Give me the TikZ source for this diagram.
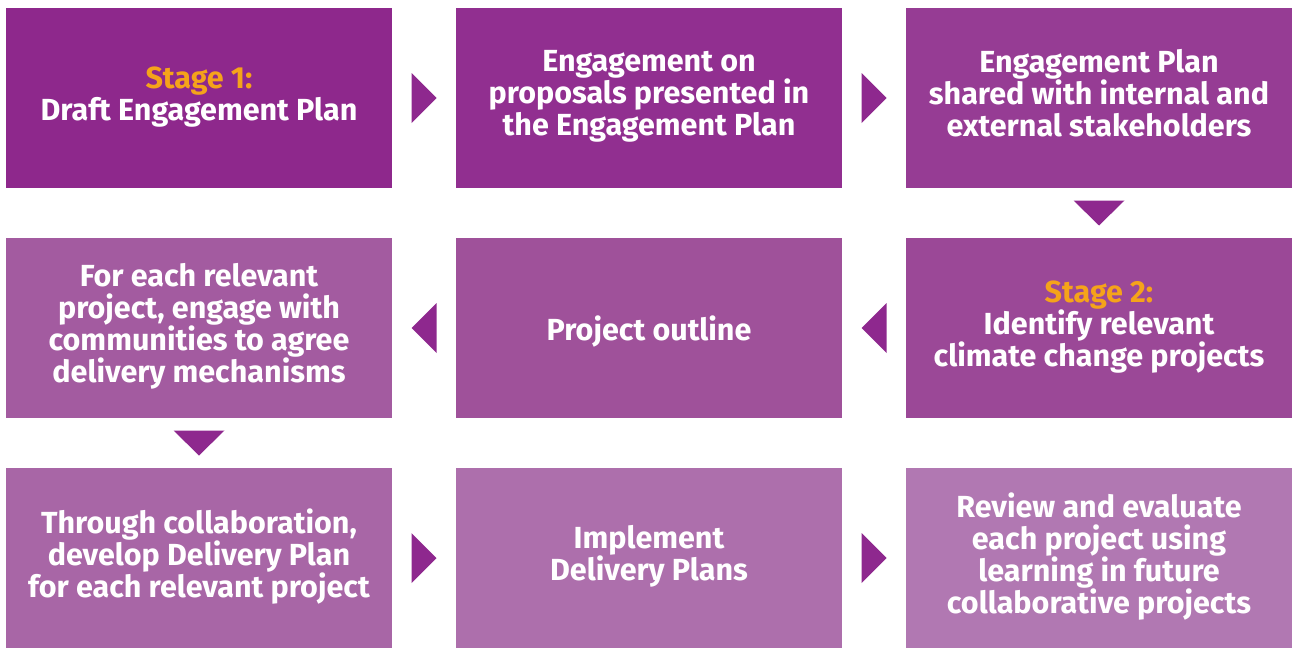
\documentclass[tikz,border=0pt]{standalone}
\usepackage{fontspec}
\setmainfont{Fira Sans}
\usepackage{tikz}
\usetikzlibrary{positioning}
\usetikzlibrary{calc}

\definecolor{stageorange}{HTML}{F5A31A}
\definecolor{tricol}{HTML}{8E288E}
\definecolor{c1}{HTML}{8E288C}
\definecolor{c2}{HTML}{912F90}
\definecolor{c3}{HTML}{963C94}
\definecolor{c4}{HTML}{A35BA0}
\definecolor{c5}{HTML}{9F519A}
\definecolor{c6}{HTML}{9B4897}
\definecolor{c7}{HTML}{A866A6}
\definecolor{c8}{HTML}{AD6FAC}
\definecolor{c9}{HTML}{B178B2}

\tikzset{
	stepbox/.style={minimum width=386pt,minimum height=180pt,inner sep=0pt,outer sep=0pt,
		align=center,text=white,font=\fontsize{30.5}{32}\selectfont\bfseries,
		execute at begin node=\rule{0pt}{34pt},execute at end node=\rule[-9.6pt]{0pt}{1pt}},
	tri/.style={fill=tricol,draw=none},
}

\begin{document}
\begin{tikzpicture}[x=1pt,y=-1pt]
	\useasboundingbox (0,0) rectangle (1292,661);
	%% row 1
	\node[stepbox,fill=c1,anchor=north west] (b1) at (6,8) {{\color{stageorange}Stage 1:}\\Draft Engagement Plan};
	\node[stepbox,fill=c2,right=64pt of b1] (b2) {Engagement on\\proposals presented in\\the Engagement Plan};
	\node[stepbox,fill=c3,right=64pt of b2] (b3) {Engagement Plan\\shared with internal and\\external stakeholders};
	%% row 2
	\node[stepbox,fill=c6,below=50pt of b3] (b6) {{\color{stageorange}Stage 2:}\\Identify relevant\\climate change projects};
	\node[stepbox,fill=c5,left=64pt of b6] (b5) {Project outline};
	\node[stepbox,fill=c4,left=64pt of b5] (b4) {For each relevant\\project, engage with\\communities to agree\\delivery mechanisms};
	%% row 3
	\node[stepbox,fill=c7,below=50pt of b4] (b7) {Through collaboration,\\develop Delivery Plan\\for each relevant project};
	\node[stepbox,fill=c8,right=64pt of b7] (b8) {Implement\\Delivery Plans};
	\node[stepbox,fill=c9,right=64pt of b8] (b9) {Review and evaluate\\each project using\\learning in future\\collaborative projects};
	% triangles between the boxes
	\coordinate (t12) at ($(b1.east)!.5!(b2.west)$);
	\coordinate (t23) at ($(b2.east)!.5!(b3.west)$);
	\coordinate (t36) at ($(b3.south)!.5!(b6.north)$);
	\coordinate (t65) at ($(b6.west)!.5!(b5.east)$);
	\coordinate (t54) at ($(b5.west)!.5!(b4.east)$);
	\coordinate (t47) at ($(b4.south)!.5!(b7.north)$);
	\coordinate (t78) at ($(b7.east)!.5!(b8.west)$);
	\coordinate (t89) at ($(b8.east)!.5!(b9.west)$);
	\foreach \t in {t12,t23,t78,t89}
		\fill[tri] (\t) ++(-12.5,-25) -- ++(25,25) -- ++(-25,25) -- cycle;
	\foreach \t in {t65,t54}
		\fill[tri] (\t) ++(12.5,-25) -- ++(-25,25) -- ++(25,25) -- cycle;
	\foreach \t in {t36,t47}
		\fill[tri] (\t) ++(-25.5,-12.5) -- ++(51,0) -- ++(-25.5,25) -- cycle;
\end{tikzpicture}
\end{document}
